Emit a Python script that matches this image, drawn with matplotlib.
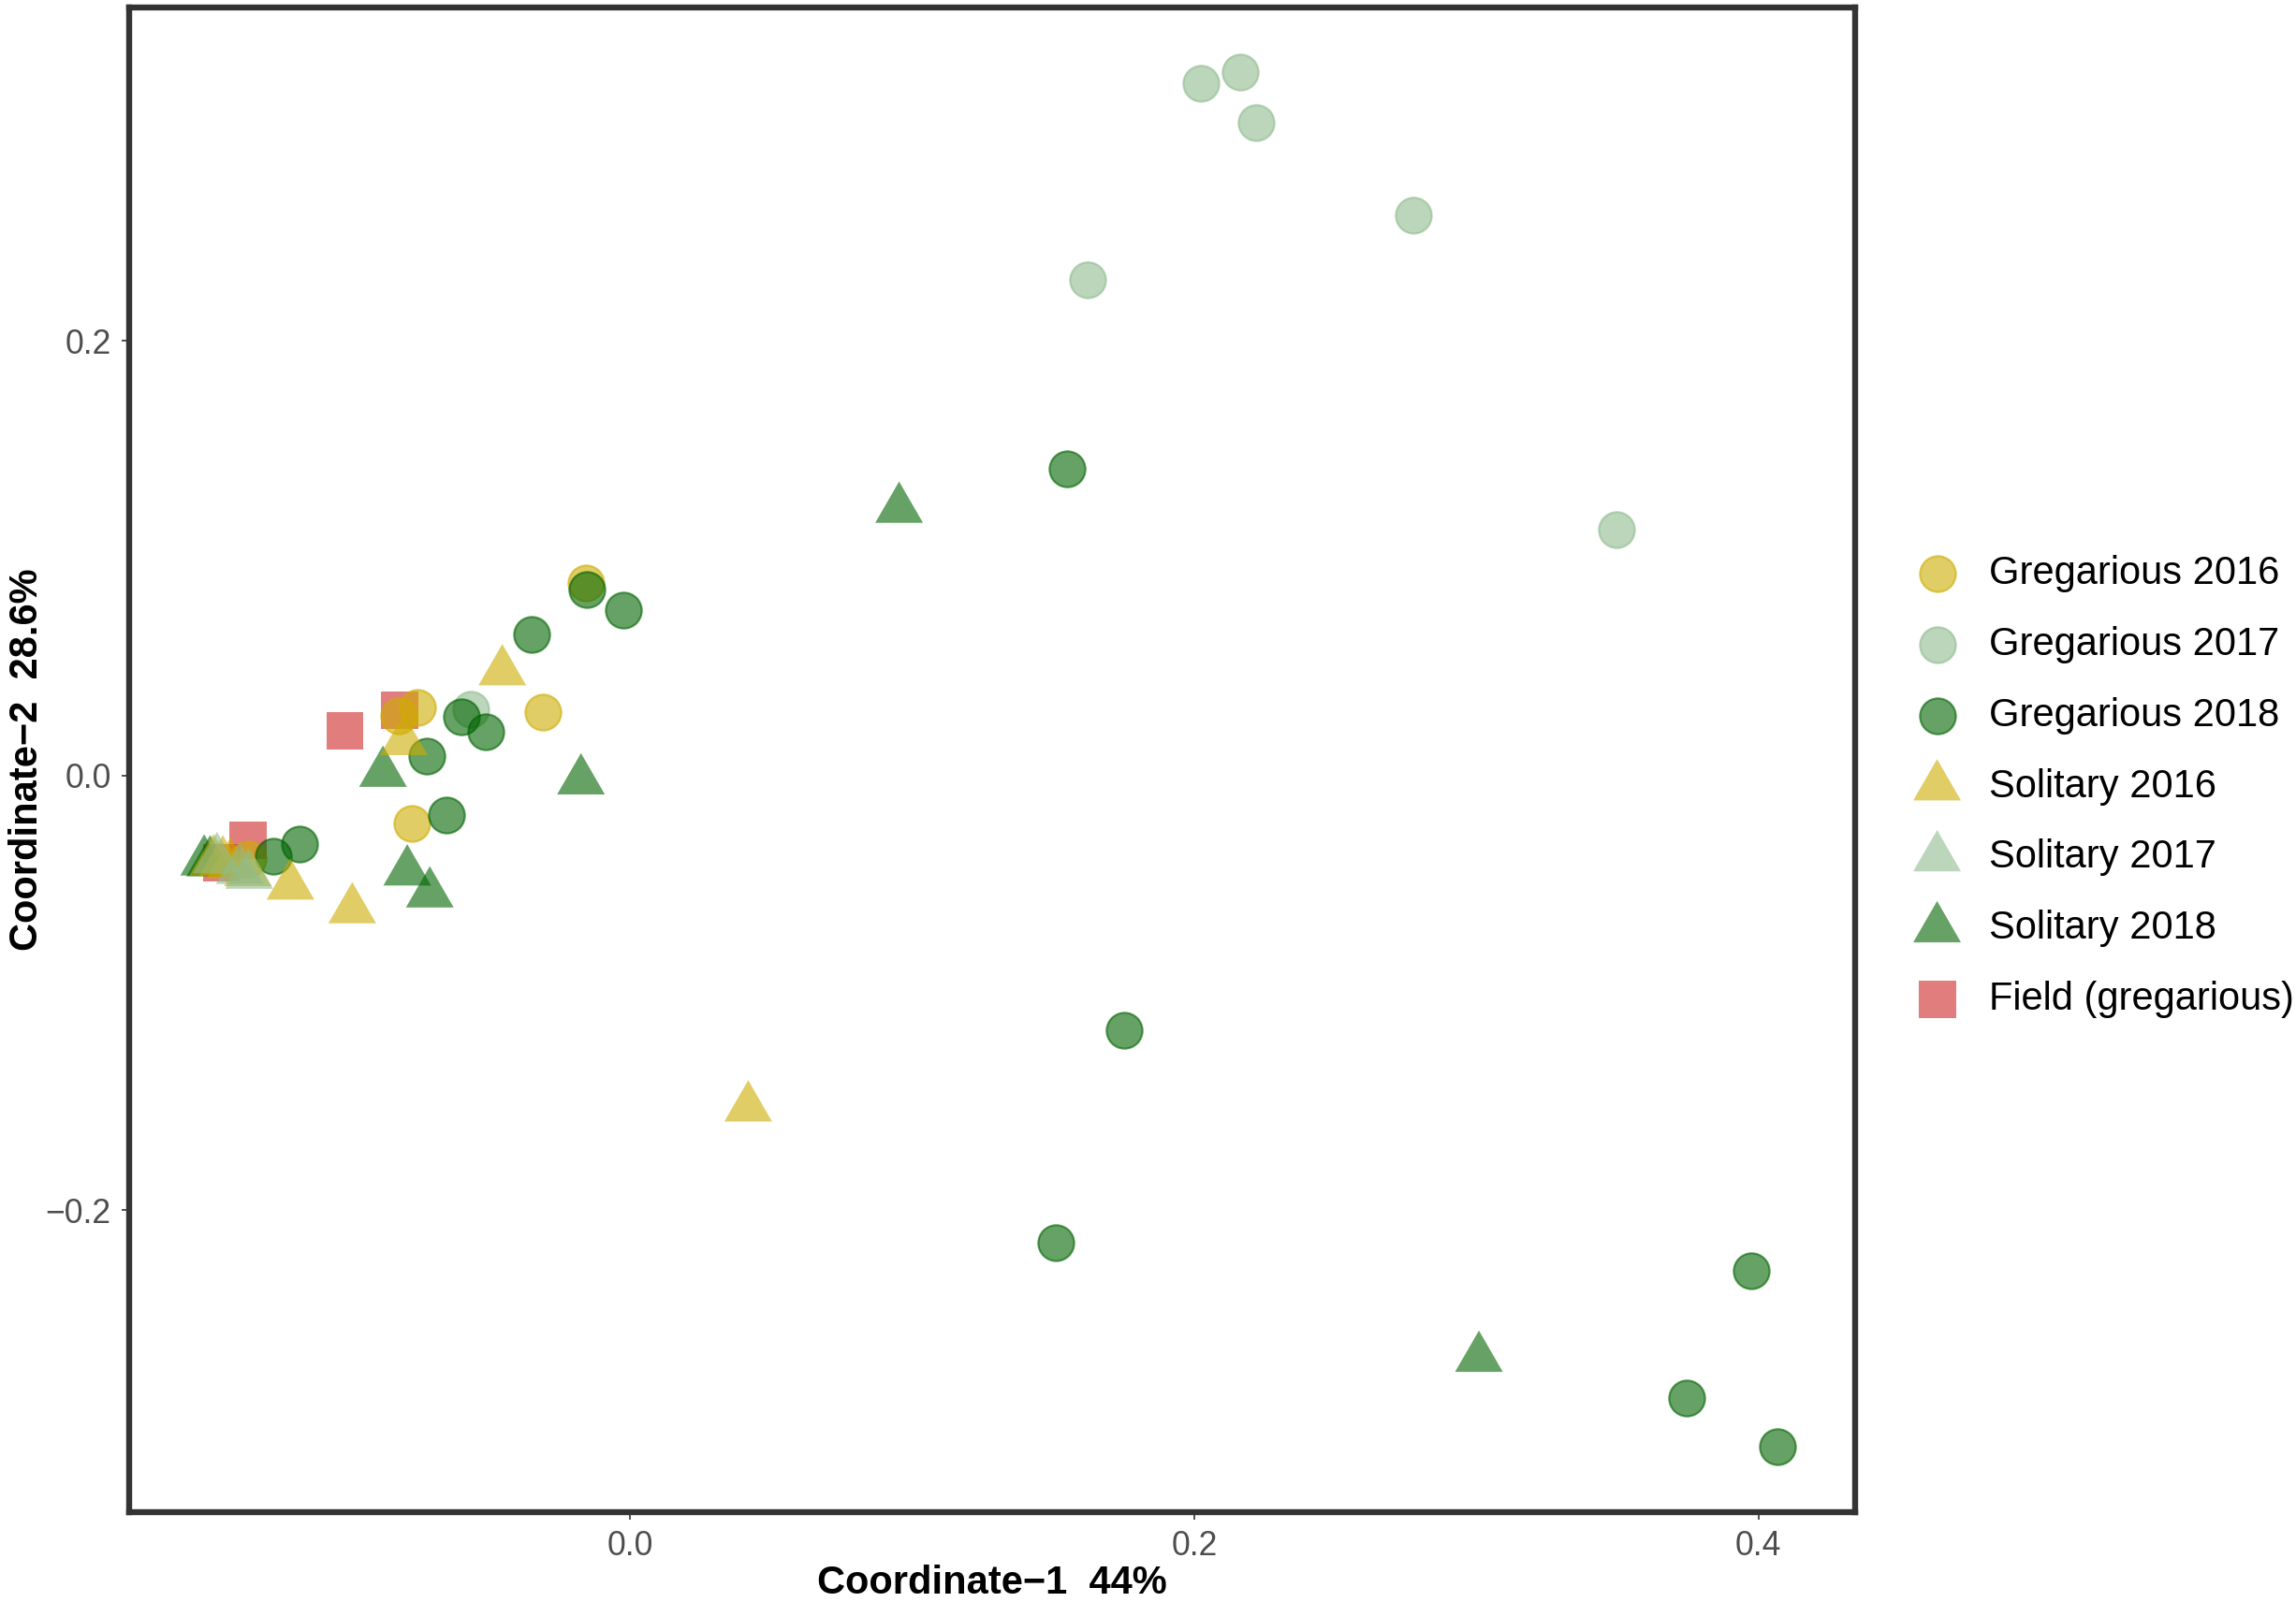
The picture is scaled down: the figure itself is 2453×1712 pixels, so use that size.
import numpy as np
import matplotlib
matplotlib.use("Agg")
import matplotlib.pyplot as plt
from matplotlib.markers import MarkerStyle
from matplotlib.path import Path
from matplotlib.ticker import FuncFormatter

plt.rcParams["font.family"] = ["Liberation Sans", "DejaVu Sans"]

# MDS coordinates
greg16_x = [-0.0158, -0.0310, -0.0756, -0.0821, -0.0775, -0.1356]
greg16_y = [0.0888, 0.0293, 0.0316, 0.0276, -0.0220, -0.0385]

greg17_x = [0.2022, 0.2163, 0.2220, 0.2775, 0.1623, 0.3497, -0.0567]
greg17_y = [0.3185, 0.3239, 0.3004, 0.2579, 0.2283, 0.1131, 0.0307]

greg18_x = [0.1550, 0.1752, 0.1508, 0.3975, 0.3746, 0.4068,
            -0.0153, -0.0349, -0.0024, -0.0722, -0.0600, -0.0514,
            -0.0652, -0.1173, -0.1267]
greg18_y = [0.1414, -0.1173, -0.2150, -0.2278, -0.2864, -0.3086,
            0.0857, 0.0652, 0.0761, 0.0092, 0.0273, 0.0204,
            -0.0179, -0.0313, -0.0370]

sol16_x = [-0.0454, -0.0803, -0.1205, -0.0986, 0.0418,
           -0.1478, -0.1445, -0.1417, -0.1356]
sol16_y = [0.0479, 0.0158, -0.0507, -0.0616, -0.1528,
           -0.0395, -0.0400, -0.0409, -0.0445]

sol17_x = [-0.1466, -0.1385, -0.1352]
sol17_y = [-0.0385, -0.0435, -0.0457]

sol18_x = [0.0953, 0.3009, -0.0877, -0.0175, -0.0791, -0.0711, -0.1511, -0.1490]
sol18_y = [0.1227, -0.2680, 0.0012, -0.0023, -0.0442, -0.0543, -0.0396, -0.0400]

field_x = [-0.1012, -0.0818, -0.1354, -0.1450]
field_y = [0.0207, 0.0301, -0.0298, -0.0399]

labels = ["Gregarious 2016", "Gregarious 2017", "Gregarious 2018",
          "Solitary 2016", "Solitary 2017", "Solitary 2018", "Field (gregarious)"]

col16 = "#CDAD00"
col17 = "#8FBC8F"
col18 = "#006400"
col_field = "#CD2626"
alpha = 0.6

# triangle centred on its centroid, like R's pch 17
tri = MarkerStyle(Path([(0, 1), (-0.866, -0.5), (0.866, -0.5), (0, 1)],
                       [Path.MOVETO, Path.LINETO, Path.LINETO, Path.CLOSEPOLY]))

fig = plt.figure(figsize=(12.265, 8.56), dpi=200)
ax = fig.add_axes([0.05626, 0.05607, 0.80800 - 0.05626, 0.99533 - 0.05607])

s_circ = 190
s_tri = 450
s_sq = 207

series = [
    (greg16_x, greg16_y, "o", col16, s_circ, True, 4),
    (greg17_x, greg17_y, "o", col17, s_circ, True, 4),
    (greg18_x, greg18_y, "o", col18, s_circ, True, 4),
    (sol16_x, sol16_y, tri, col16, s_tri, False, 4),
    (sol17_x, sol17_y, tri, col17, s_tri, False, 4),
    (sol18_x, sol18_y, tri, col18, s_tri, False, 3.5),
    (field_x, field_y, "s", col_field, s_sq, False, 3),
]

handles = []
for (x, y, m, c, s, edged, z), lab in zip(series, labels):
    h = ax.scatter(x, y, marker=m, s=s, color=c, alpha=alpha,
                   edgecolors=c if edged else "none",
                   linewidths=0.8 if edged else 0, label=lab, zorder=z)
    handles.append(h)

ax.set_xlim(-0.1777, 0.4343)
ax.set_ylim(-0.3389, 0.3535)
ax.set_xticks([0.0, 0.2, 0.4])
ax.set_yticks([-0.2, 0.0, 0.2])
fmt = FuncFormatter(lambda v, pos: ("%.1f" % v).replace("-", "\u2212"))
ax.xaxis.set_major_formatter(fmt)
ax.yaxis.set_major_formatter(fmt)
ax.tick_params(length=3.0, width=0.6, color="#333333", labelsize=12.8,
               labelcolor="#4D4D4D", pad=4)

for sp in ax.spines.values():
    sp.set_linewidth(2.3)
    sp.set_color("#333333")

ax.set_xlabel("Coordinate\u22121  44%", fontsize=15, fontweight="bold", labelpad=0.5)
ax.set_ylabel("Coordinate\u22122  28.6%", fontsize=15, fontweight="bold")
ax.yaxis.set_label_coords(-0.0485, 0.5)

fig.legend(handles=handles, labels=labels, loc="center left",
           bbox_to_anchor=(0.8267, 0.509), frameon=False, fontsize=15,
           borderaxespad=0, borderpad=0, handlelength=2.0, handletextpad=0.34,
           labelspacing=0.86, scatterpoints=1)

fig.savefig("out.png", dpi=200)
